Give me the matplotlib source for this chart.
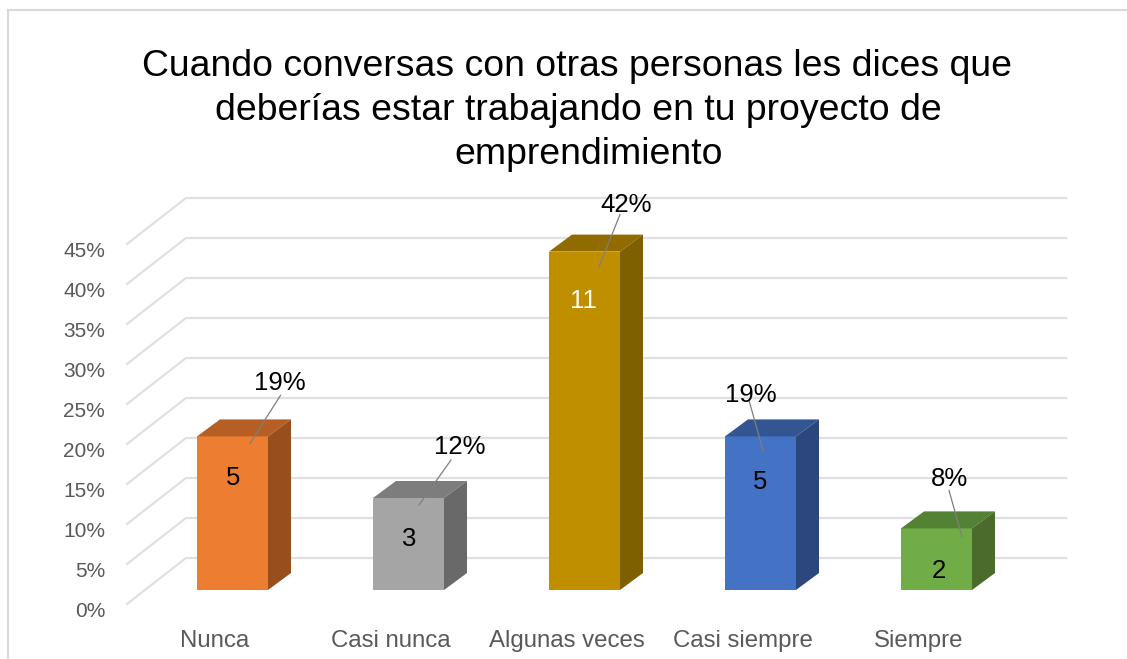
import numpy as np
import matplotlib
matplotlib.use('Agg')
import matplotlib.pyplot as plt
from matplotlib.lines import Line2D
from matplotlib.transforms import ScaledTranslation

plt.rcParams['font.family'] = ['Liberation Sans', 'DejaVu Sans']

# Data
categories = ['Nunca', 'Casi nunca', 'Algunas veces', 'Casi siempre', 'Siempre']
counts = [5, 3, 11, 5, 2]
percents = [19.2, 11.5, 42.3, 19.2, 7.7]
percent_labels = ['19%', '12%', '42%', '19%', '8%']
y_ticks = [0, 5, 10, 15, 20, 25, 30, 35, 40, 45]
title_lines = ['Cuando conversas con otras personas les dices que',
               'deberías estar trabajando en tu proyecto de',
               'emprendimiento']

# Colours
front_colors = ['#ED7D31', '#A5A5A5', '#BF8F00', '#4472C4', '#70AD47']
top_colors = ['#B65F24', '#7D7D7D', '#8F6B00', '#335693', '#548235']
side_colors = ['#964F1D', '#696969', '#7F6000', '#2B477D', '#4A6B2B']
count_colors = ['black', 'black', 'white', 'black', 'black']

# Pixel scale of the picture: one category = 176 px, one percent = 8 px
W, H = 1127, 659
CAT_PX, PCT_PX = 176, 8
FIRST_BAR_PX = 232.5
FLOOR = 14 / PCT_PX          # bar base sits above the front edge of the floor
BAR_W = 71 / CAT_PX
BAR_DX, BAR_DY = 23 / CAT_PX, 17 / PCT_PX
WALL_DX, WALL_DY = 59 / CAT_PX, 46 / PCT_PX

# Label placement relative to the bar's top centre, in px (x right, y down)
label_off = [(47.5, -53), (51, -51), (41.5, -47), (-9.5, -41), (12.5, -49)]
leader_start = [(48, -41), (42.5, -38), (35.5, -37), (-11.5, -36), (12.5, -38)]
leader_tip = [(17.5, 7), (10.5, 7), (14.5, 15), (2.5, 14), (25.5, 8.5)]
count_off = [(1, 42), (0.5, 41), (-1.5, 49), (0, 46), (2.5, 43)]
title_pos = [(577.5, 67), (578, 111), (589, 154)]


def at(i, p, off):
    return i + off[0] / CAT_PX, p - off[1] / PCT_PX


fig = plt.figure(figsize=(W / 100, H / 100), dpi=100, facecolor='white')
ax = fig.add_axes([127 / W, 1 - 604 / H, (1066 - 127) / W, (604 - 198) / H])
ax.set_xlim((127 - FIRST_BAR_PX) / CAT_PX, (1066 - FIRST_BAR_PX) / CAT_PX)
ax.set_ylim(0, (604 - 198) / PCT_PX)
ax.patch.set_visible(False)
for s in ax.spines.values():
    s.set_visible(False)

# Picture frame
for xs, ys in [((7.5, 7.5), (H, 10)), ((7.5, W), (10, 10))]:
    fig.add_artist(Line2D(np.array(xs) / W, 1 - np.array(ys) / H,
                          color='#D9D9D9', lw=1.5))

# Floor and wall gridlines
x0, x1 = ax.get_xlim()
for t in y_ticks:
    ax.plot([x0, x0 + WALL_DX, x1], [t, t + WALL_DY, t + WALL_DY],
            color='#E0E0E0', lw=1.6, zorder=1, clip_on=False)

# Bars
xs = np.arange(len(categories))
ax.bar(xs, percents, width=BAR_W, bottom=FLOOR, color=front_colors, zorder=3)
for i, p in enumerate(percents):
    l, r = i - BAR_W / 2, i + BAR_W / 2
    b, t = FLOOR, FLOOR + p
    ax.fill([l, r, r + BAR_DX, l + BAR_DX], [t, t, t + BAR_DY, t + BAR_DY],
            color=top_colors[i], lw=0, zorder=3)
    ax.fill([r, r + BAR_DX, r + BAR_DX, r], [b, b + BAR_DY, t + BAR_DY, t],
            color=side_colors[i], lw=0, zorder=3)

    # Leader line, percentage and count labels
    sx, sy = at(i, t, leader_start[i])
    ex, ey = at(i, t, leader_tip[i])
    ax.plot([sx, ex], [sy, ey], color='#7F7F7F', lw=0.9, zorder=4)
    lx, ly = at(i, t, label_off[i])
    ax.text(lx, ly, percent_labels[i], fontsize=18.5, color='black',
            ha='center', va='center', zorder=5)
    cx, cy = at(i, t, count_off[i])
    ax.text(cx, cy, str(counts[i]), fontsize=18.5, color=count_colors[i],
            ha='center', va='center', zorder=5)

# Axis labels
ax.set_yticks(y_ticks)
ax.set_yticklabels([f'{t}%' for t in y_ticks])
ax.set_xticks(xs - 17.5 / CAT_PX)
ax.set_xticklabels(categories)
ax.tick_params(axis='y', length=0, pad=15.8, labelsize=15, labelcolor='#595959')
ax.tick_params(axis='x', length=0, pad=18.5, labelsize=17.3, labelcolor='#595959')
shift = ScaledTranslation(0, -4.2 / 72, fig.dpi_scale_trans)
for lab in ax.get_yticklabels():
    lab.set_transform(lab.get_transform() + shift)

# Title, one text per line because the last line sits off centre
for line, (tx, ty) in zip(title_lines, title_pos):
    fig.text(tx / W, 1 - ty / H, line, fontsize=26.9, color='black',
             ha='center', va='center')

fig.savefig('out.png', dpi=100, facecolor='white')
print('Saved: out.png')
